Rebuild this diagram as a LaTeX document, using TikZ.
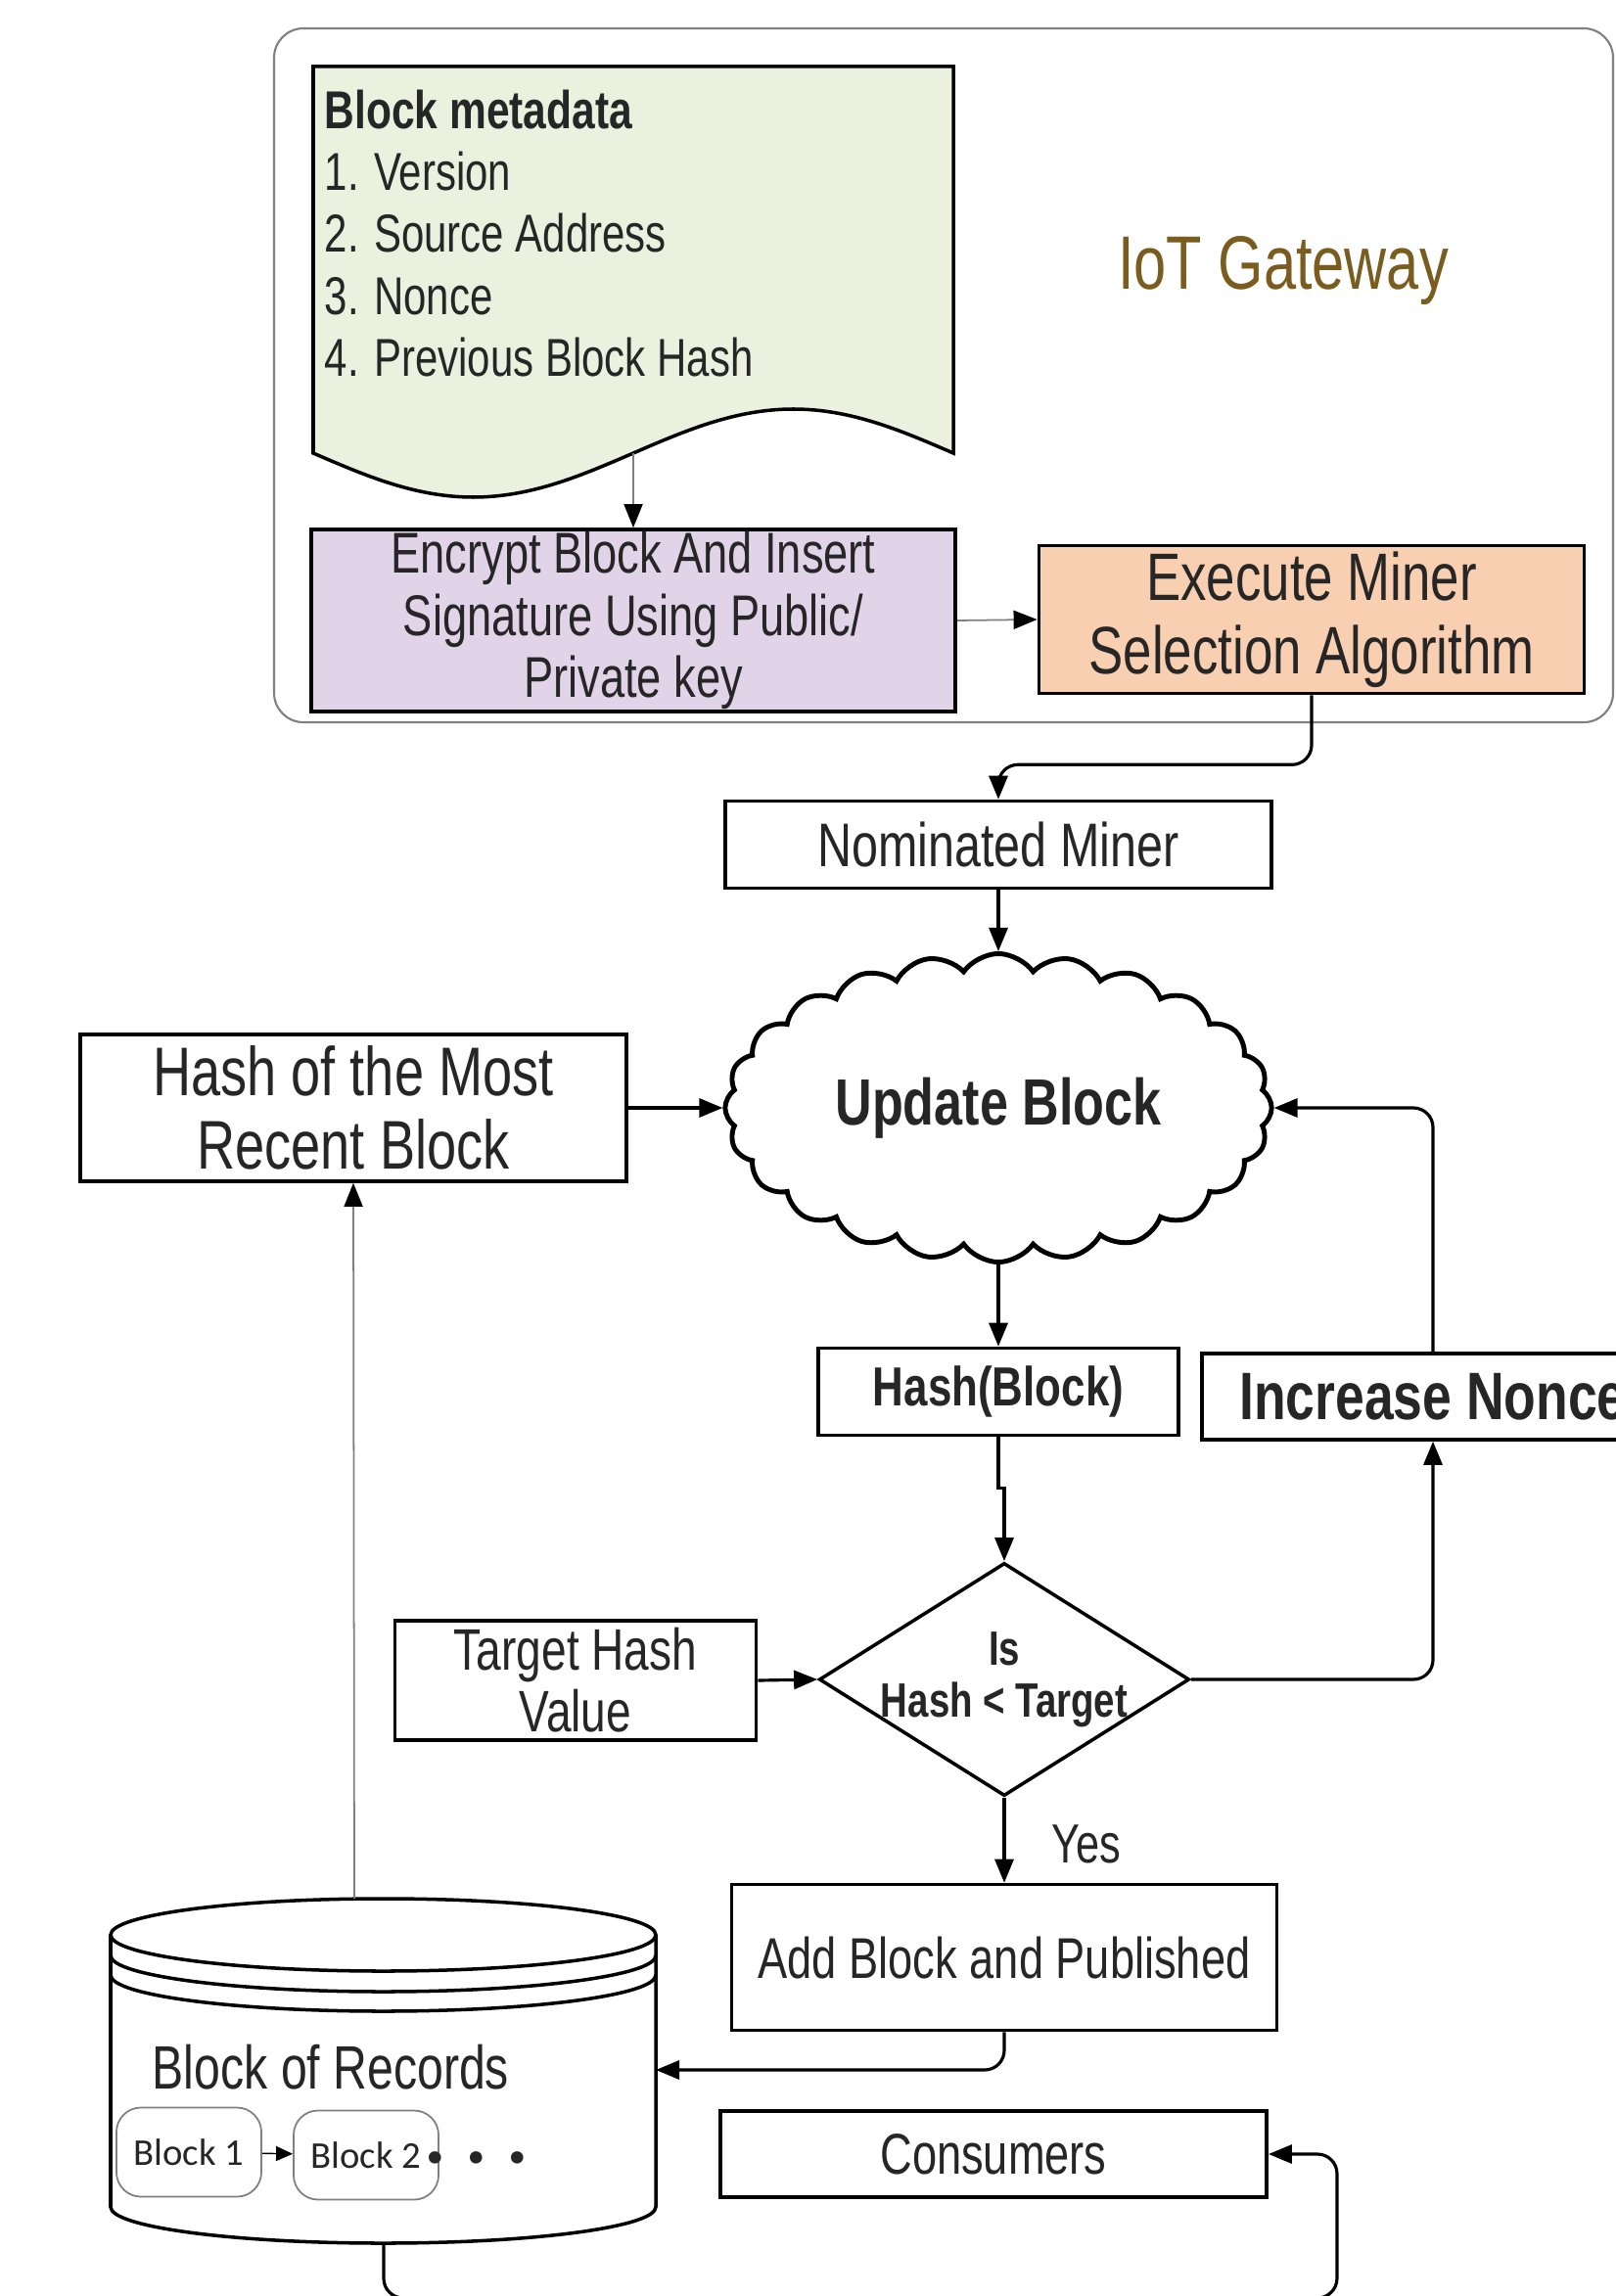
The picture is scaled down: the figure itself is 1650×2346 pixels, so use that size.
\documentclass[tikz,border=0pt]{standalone}
\usepackage{fontspec}
\setmainfont{Liberation Sans}[FakeStretch=0.77,BoldFeatures={FakeStretch=0.78}]
\newfontfamily\calib{Carlito}
\usepackage{tikz}
\usetikzlibrary{shapes.geometric,shapes.symbols,arrows.meta}

\definecolor{metagreen}{HTML}{EBF1DE}
\definecolor{encpurple}{HTML}{E1D4E8}
\definecolor{minerorange}{HTML}{F8CFB0}
\definecolor{gatebrown}{HTML}{7A5C1E}
\definecolor{txtgrey}{HTML}{262626}
\newcommand{\fsz}[2]{\fontsize{#1}{#2}\selectfont}

\begin{document}
\begin{tikzpicture}[x=0.01cm,y=-0.01cm,
    box/.style={draw,line width=1pt,align=center,inner sep=0pt,text=txtgrey},
    arr/.style={-{Triangle[length=0.24cm,width=0.19cm]},line width=0.9pt,rounded corners=0.2cm},
    garr/.style={-{Triangle[length=0.24cm,width=0.19cm,black]},draw=gray,line width=0.5pt},
    blk/.style={draw=gray,line width=0.5pt,rounded corners=0.25cm,minimum width=1.48cm,minimum height=0.91cm,inner sep=0pt,font=\calib\fsz{11}{13},text=txtgrey}]
      \fill[white] (0,0) rectangle (1650,2346);
      \useasboundingbox (0,0) rectangle (1650,2346);

      % gateway frame
      \draw[gray,line width=0.6pt,rounded corners=0.3cm] (280,29) rectangle (1648,738);
      \node[text=gatebrown,font=\fsz{22}{26}] (gw) at (1311,277) {IoT Gateway};

      % block metadata document
      \draw[line width=1pt,fill=metagreen] (320,68) -- (320,463) sin (483.5,508) cos (647,463)
        sin (810.5,418) cos (974,463) -- (974,68) -- cycle;
      \coordinate (metabot) at (647,463);
      \node[anchor=north west,align=left,inner sep=0pt,text=txtgrey,font=\fsz{15.5}{18}] (meta) at (331,91)
        {\textbf{Block metadata}\\1. Version\\2. Source Address\\3. Nonce\\4. Previous Block Hash};

      \node[box,fill=encpurple,minimum width=6.58cm,minimum height=1.86cm,font=\fsz{16.7}{18}] (encrypt) at (647,634)
        {Encrypt Block And Insert\\Signature Using Public/\\Private key};
      \node[box,fill=minerorange,minimum width=5.57cm,minimum height=1.51cm,font=\fsz{19.5}{21.3}] (execute) at (1340,633)
        {Execute Miner\\Selection Algorithm};

      \node[box,minimum width=5.58cm,minimum height=0.89cm,font=\fsz{17.9}{20}] (nominated) at (1020,863) {Nominated Miner};
      \node[cloud,draw,line width=1.4pt,cloud puffs=24,cloud puff arc=110,cloud ignores aspect,
        minimum width=5.58cm,minimum height=3.15cm,inner sep=0pt,text=txtgrey,font=\bfseries\fsz{19}{22}] (upd) at (1020,1132) {Update Block};
      \node[box,minimum width=5.58cm,minimum height=1.5cm,font=\fsz{20}{21.3}] (recent) at (361,1132)
        {Hash of the Most\\Recent Block};
      \node[box,minimum width=3.68cm,minimum height=0.89cm,font=\bfseries\fsz{16}{18}] (hashblk) at (1020,1422) {Hash(Block)};
      \node[box,minimum width=4.72cm,minimum height=0.88cm,font=\bfseries\fsz{19.5}{21}] (nonce) at (1464,1427) {Increase Nonce};

      \node[diamond,box,minimum width=3.78cm,minimum height=2.38cm] (diamond) at (1026,1716) {};
      \node[align=center,inner sep=0pt,text=txtgrey,font=\bfseries\fsz{14}{15}] (test) at (diamond.center)
        {Is\\Hash \textless{} Target};
      \node[box,minimum width=3.69cm,minimum height=1.22cm,font=\fsz{17}{17.9}] (target) at (588,1717)
        {Target Hash\\Value};
      \node[box,minimum width=5.57cm,minimum height=1.49cm,font=\fsz{16.7}{18}] (addblk) at (1026,2000)
        {Add Block and Published};
      \node[box,minimum width=5.58cm,minimum height=0.88cm,font=\fsz{16.7}{18}] (consumers) at (1015,2201) {Consumers};

      % block of records store
      \draw[line width=1pt] (113,1977) -- (113,2255) arc[start angle=180,end angle=0,x radius=278.5,y radius=37] -- (670,1977);
      \draw[line width=1pt] (391.5,1977) ellipse[x radius=278.5,y radius=37];
      \draw[line width=1pt] (113,1998) arc[start angle=180,end angle=0,x radius=278.5,y radius=37];
      \draw[line width=1pt] (113,2018) arc[start angle=180,end angle=0,x radius=278.5,y radius=37];
      \coordinate (dbtop) at (362,1940);
      \coordinate (dbright) at (670,2115);
      \coordinate (dbbot) at (392,2292);
      \node[text=txtgrey,font=\fsz{17.8}{20}] (records) at (338,2112) {Block of Records};
      \node[blk] (b1) at (193,2199) {Block 1};
      \node[blk] (b2) at (374,2202) {Block 2};
      \node[font=\calib\bfseries\fsz{24}{24},text=txtgrey,inner sep=0pt] (dots) at (487,2205) {.\hspace{5.5pt}.\hspace{5.5pt}.};

      % connectors
      \draw[garr] (metabot) -- (encrypt.north);
      \draw[garr] (encrypt.east) -- (execute.west);
      \draw[arr] (execute.south) -- ++(0,71) -| (nominated.north);
      \draw[arr] (nominated.south) -- (upd.north);
      \draw[arr] (recent.east) -- (upd.west);
      \draw[arr] (upd.south) -- (hashblk.north);
      \draw[arr,sharp corners] (hashblk.south) -- ++(0,52) -- ++(6,0) -- (diamond.north);
      \draw[arr] (target.east) -- (diamond.west);
      \draw[arr] (diamond.east) -| (nonce.south);
      \draw[arr] (nonce.north) |- (upd.east);
      \draw[arr] (diamond.south) -- node[right=0.35cm,pos=0.55,text=txtgrey,font=\fsz{16}{18}] {Yes} (addblk.north);
      \draw[arr] (addblk.south) |- (dbright);
      \draw[garr] (dbtop) -- (recent.south);
      \draw[arr] (dbbot) -- ++(0,56) -| ([xshift=0.7cm]consumers.east) -- (consumers.east);
      \draw[-{Triangle[length=0.17cm,width=0.15cm]},line width=0.4pt] (b1) -- (b2);
\end{tikzpicture}
\end{document}
